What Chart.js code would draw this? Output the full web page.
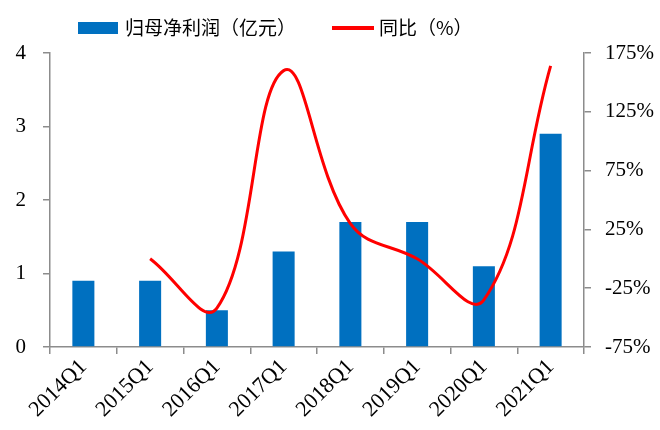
<!DOCTYPE html>
<html>
<head>
<meta charset="utf-8">
<script src="https://cdn.jsdelivr.net/npm/chart.js@4.4.1/dist/chart.umd.min.js"></script>
<style>
  html, body { margin: 0; padding: 0; background: #fff; }
  #wrap { width: 660px; height: 430px; }
</style>
</head>
<body>
<div id="wrap"><canvas id="c" width="660" height="430"></canvas></div>
<script>
// Quarterly net profit attributable to parent, with YoY growth
const categories = ['2014Q1', '2015Q1', '2016Q1', '2017Q1', '2018Q1', '2019Q1', '2020Q1', '2021Q1'];
const profit = [0.9, 0.9, 0.5, 1.3, 1.7, 1.7, 1.1, 2.9];          // 亿元
const yoy = [null, 0, -42, 160, 30, 0, -35, 164];                   // %
const leftTicks = [0, 1, 2, 3, 4];
const rightTicks = [-75, -25, 25, 75, 125, 175];

const AXIS = '#8c8c8c';
const serif = "'Liberation Serif', 'Times New Roman', serif";
const cjk = "'Noto Sans CJK SC', sans-serif";

// Legend row drawn above the plot: swatch, label, next item
const legendRow = {
  id: 'legendRow',
  afterDraw(chart) {
    const ctx = chart.ctx;
    const y = 28;
    let x = 78;
    ctx.save();
    ctx.font = '19px ' + cjk;
    ctx.textBaseline = 'middle';
    chart.data.datasets.forEach((ds) => {
      if (ds.type === 'line') {
        ctx.strokeStyle = ds.borderColor;
        ctx.lineWidth = 4;
        ctx.beginPath();
        ctx.moveTo(x, y);
        ctx.lineTo(x + 42, y);
        ctx.stroke();
        x += 47;
      } else {
        ctx.fillStyle = ds.backgroundColor;
        ctx.fillRect(x, y - 6, 40, 12);
        x += 47;
      }
      ctx.fillStyle = '#000';
      ctx.fillText(ds.label, x, y);
      x += ctx.measureText(ds.label).width + 36;
    });
    ctx.restore();
  }
};

new Chart(document.getElementById('c'), {
  data: {
    labels: categories,
    datasets: [
      {
        type: 'bar',
        label: '归母净利润（亿元）',
        data: profit,
        backgroundColor: '#0070C0',
        barPercentage: 0.33,
        categoryPercentage: 1,
        yAxisID: 'y',
        order: 2
      },
      {
        type: 'line',
        label: '同比（%）',
        data: yoy,
        borderColor: '#FF0000',
        backgroundColor: '#FF0000',
        borderWidth: 3,
        pointRadius: 0,
        tension: 0.4,
        spanGaps: false,
        yAxisID: 'y1',
        order: 1
      }
    ]
  },
  options: {
    responsive: false,
    animation: false,
    layout: { padding: { top: 53, left: 0, right: 0, bottom: 0 } },
    plugins: {
      tooltip: { enabled: false },
      legend: { display: false }
    },
    scales: {
      x: {
        offset: true,
        grid: { offset: true, drawOnChartArea: false, drawTicks: true, tickLength: 7, color: AXIS, lineWidth: 1.5 },
        border: { color: AXIS, width: 1.5 },
        ticks: {
          font: { family: serif, size: 22 },
          color: '#000',
          maxRotation: 45,
          minRotation: 45,
          padding: 0
        },
        afterFit(s) { s.height = 83; }
      },
      y: {
        position: 'left',
        min: 0,
        max: 4,
        afterBuildTicks(s) { s.ticks = leftTicks.map(v => ({ value: v })); },
        grid: { drawOnChartArea: false, tickLength: 7, color: AXIS, lineWidth: 1.5 },
        border: { color: AXIS, width: 1.5 },
        ticks: { font: { family: serif, size: 21 }, color: '#000', padding: 17 },
        afterFit(s) { s.width = 50; }
      },
      y1: {
        position: 'right',
        min: -75,
        max: 175,
        afterBuildTicks(s) { s.ticks = rightTicks.map(v => ({ value: v })); },
        grid: { drawOnChartArea: false, tickLength: 7, color: AXIS, lineWidth: 1.5 },
        border: { color: AXIS, width: 1.5 },
        ticks: {
          font: { family: serif, size: 21 },
          color: '#000',
          padding: 14,
          callback: v => v + '%'
        },
        afterFit(s) { s.width = 76; }
      }
    }
  },
  plugins: [legendRow]
});
</script>
</body>
</html>
